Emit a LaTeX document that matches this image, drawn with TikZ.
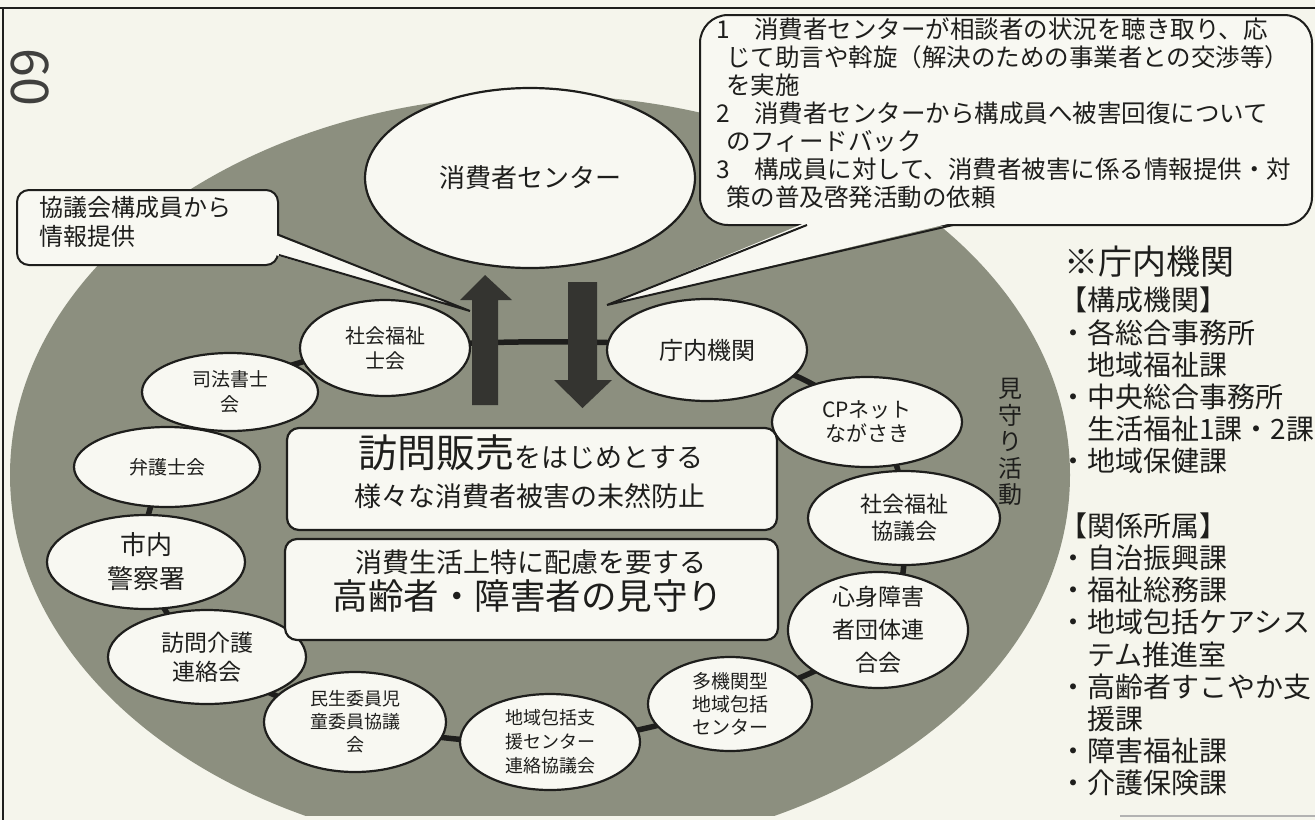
\documentclass[tikz,border=0pt]{standalone}
\usepackage{fontspec}
\setmainfont{Noto Sans CJK JP}
\usetikzlibrary{shapes.geometric}
\pgfdeclarelayer{bg}
\pgfdeclarelayer{ringl}
\pgfsetlayers{bg,ringl,main}
\definecolor{paper}{RGB}{245,245,236}
\definecolor{olive}{RGB}{140,143,127}
\definecolor{ink}{RGB}{30,30,28}
\definecolor{arrowc}{RGB}{52,52,48}
\definecolor{nodefill}{RGB}{248,248,242}
\newcommand{\fsz}[2]{\fontsize{#1pt}{#2pt}\selectfont}
\begin{document}
\begin{tikzpicture}[x=1pt,y=-1pt,
  member/.style={ellipse, draw=ink, line width=2.2pt, fill=nodefill, inner sep=0pt},
  lbl/.style={align=center, inner sep=0pt, text=ink},
  line/.style={anchor=west, inner sep=0pt, text=ink, text height=0.88em, text depth=0.12em},
  ringline/.style={draw=ink, line width=5.5pt},
  infobox/.style={draw=ink, line width=2.2pt, fill=nodefill, rounded corners=12pt, inner sep=0pt},
  callbox/.style={draw=ink, line width=2pt, fill=nodefill, inner sep=0pt},
  tailfill/.style={fill=nodefill},
  tailline/.style={draw=ink, line width=2pt, line join=miter},
  bigarrow/.style={fill=arrowc}]
\useasboundingbox (0,0) rectangle (1315,820);

\begin{pgfonlayer}{bg}
  \fill[paper] (0,0) rectangle (1315,820);
  \begin{scope}
    \clip (0,0) rectangle (1315,815);
    \fill[olive] (540,475) ellipse [x radius=530pt, y radius=380pt];
  \end{scope}
  \draw[ink, line width=2pt] (0,8) -- (1315,8);
  \draw[ink, line width=2pt] (3,8) -- (3,820);
  \draw[gray!60, line width=1.5pt] (1120,816) -- (1315,816);
\end{pgfonlayer}

% page number
\node[rotate=-90, font=\fsz{52}{52}, text=ink!85, inner sep=0pt] (pagenum) at (30,77) {60};

% centre
\node[member, minimum width=330pt, minimum height=180pt] (center) at (530,178) {};
\node[lbl, font=\fsz{26}{30}] (center-t) at (center) {消費者センター};

% members of the ring
\node[member, minimum width=170pt, minimum height=96pt] (shakai) at (385,348) {};
\node[lbl, font=\fsz{20}{25}] (shakai-t) at (shakai) {社会福祉\\士会};
\node[member, minimum width=200pt, minimum height=102pt] (chounai) at (707,350) {};
\node[lbl, font=\fsz{24}{28}] (chounai-t) at (chounai) {庁内機関};
\node[member, minimum width=190pt, minimum height=90pt] (cp) at (867,422) {};
\node[lbl, font=\fsz{21}{24}] (cp-t) at (cp) {CPネット\\ながさき};
\node[member, minimum width=192pt, minimum height=94pt] (shakyo) at (904,518) {};
\node[lbl, font=\fsz{22}{27}] (shakyo-t) at (shakyo) {社会福祉\\協議会};
\node[member, minimum width=180pt, minimum height=116pt] (shinshin) at (878,630) {};
\node[lbl, font=\fsz{23}{33}] (shinshin-t) at (shinshin) {心身障害\\者団体連\\合会};
\node[member, minimum width=164pt, minimum height=94pt] (takikan) at (730,704) {};
\node[lbl, font=\fsz{19}{23}] (takikan-t) at (takikan) {多機関型\\地域包括\\センター};
\node[member, minimum width=180pt, minimum height=96pt] (chiiki) at (550,742) {};
\node[lbl, font=\fsz{18}{24}] (chiiki-t) at (chiiki) {地域包括支\\援センター\\連絡協議会};
\node[member, minimum width=182pt, minimum height=100pt] (minsei) at (355,722) {};
\node[lbl, font=\fsz{18}{23}] (minsei-t) at (minsei) {民生委員児\\童委員協議\\会};
\node[member, minimum width=198pt, minimum height=94pt] (houmon) at (207,657) {};
\node[lbl, font=\fsz{23}{29}] (houmon-t) at (houmon) {訪問介護\\連絡会};
\node[member, minimum width=198pt, minimum height=94pt] (shinai) at (146,562) {};
\node[lbl, font=\fsz{26}{34}] (shinai-t) at (shinai) {市内\\警察署};
\node[member, minimum width=186pt, minimum height=80pt] (bengo) at (167,467) {};
\node[lbl, font=\fsz{19}{24}] (bengo-t) at (bengo) {弁護士会};
\node[member, minimum width=176pt, minimum height=78pt] (shiho) at (230,392) {};
\node[lbl, font=\fsz{19}{25}] (shiho-t) at (shiho) {司法書士\\会};

\begin{pgfonlayer}{ringl}
  \draw[ringline] plot[smooth cycle, tension=0.6] coordinates {(shakai) (chounai) (cp) (shakyo) (shinshin) (takikan) (chiiki) (minsei) (houmon) (shinai) (bengo) (shiho)};
\end{pgfonlayer}

% central boxes
\node[infobox, minimum width=490pt, minimum height=102pt] (box1) at (532,479) {};
\node[line, anchor=center] (box1-a) at (531,464) {{\fsz{39}{39}訪問販売}{\fsz{27}{27}をはじめとする}};
\node[line, anchor=center, font=\fsz{27}{27}] (box1-b) at (530,503) {様々な消費者被害の未然防止};
\node[infobox, minimum width=493pt, minimum height=101pt] (box2) at (531.5,589.5) {};
\node[line, anchor=center, font=\fsz{27}{27}] (box2-a) at (531,569) {消費生活上特に配慮を要する};
\node[line, anchor=center, font=\fsz{35.5}{35.5}] (box2-b) at (528,606) {高齢者・障害者の見守り};

% left callout
\node[callbox, rounded corners=12pt, minimum width=261pt, minimum height=75pt] (lcall) at (147.5,227.5) {};
\coordinate (ltip) at (470,311);
\fill[tailfill] (275.5,235) -- (ltip) -- (275.5,255) -- cycle;
\draw[tailline] (lcall.east |- 0,235) -- (ltip) -- (lcall.east |- 0,255);
\node[line, font=\fsz{24}{24}] (lcall-a) at (39,213) {協議会構成員から};
\node[line, font=\fsz{24}{24}] (lcall-b) at (39,242) {情報提供};

% right callout
\node[callbox, rounded corners=28pt, minimum width=612pt, minimum height=210pt] (rcall) at (1006,120) {};
\coordinate (rtip) at (607,305);
\fill[tailfill] (806,222.5) -- (rtip) -- (954,222.5) -- cycle;
\draw[tailline] (807,225) -- (rtip) -- (953,225);
\foreach \i/\t in {0/{1\hspace{1em}消費者センターが相談者の状況を聴き取り、応},
                   1/{\hspace{0.4em}じて助言や斡旋（解決のための事業者との交渉等）},
                   2/{\hspace{0.4em}を実施},
                   3/{2\hspace{1em}消費者センターから構成員へ被害回復について},
                   4/{\hspace{0.4em}のフィードバック},
                   5/{3\hspace{1em}構成員に対して、消費者被害に係る情報提供・対},
                   6/{\hspace{0.4em}策の普及啓発活動の依頼}}
  \node[line, font=\fsz{24.5}{24.5}] (rc\i) at (716,35+28*\i) {\t};

% arrows
\fill[bigarrow] (472,405) -- (472,300) -- (460,300) -- (485,275) -- (512,300) -- (498,300) -- (498,405) -- cycle;
\fill[bigarrow] (568,282) -- (597,282) -- (597,380) -- (612,380) -- (582.5,408) -- (554,380) -- (568,380) -- cycle;

% vertical label
\node[lbl, font=\fsz{24}{26.5}] (mimamori) at (1010,442) {見\\守\\り\\活\\動};

% right-hand list
\node[line, font=\fsz{34}{34}] (hd) at (1064,271) {※庁内機関};
\foreach \k/\t in {0/{【構成機関】}, 1/{・各総合事務所}, 2/{\phantom{・}地域福祉課},
                   3/{・中央総合事務所}, 4/{\phantom{・}生活福祉1課・2課}, 5/{・地域保健課},
                   7/{【関係所属】}, 8/{・自治振興課}, 9/{・福祉総務課},
                   10/{・地域包括ケアシス}, 11/{\phantom{・}テム推進室},
                   12/{・高齢者すこやか支}, 13/{\phantom{・}援課},
                   14/{・障害福祉課}, 15/{・介護保険課}}
  \node[line, font=\fsz{28}{28}] (r\k) at (1059,307+32.2*\k) {\t};
\end{tikzpicture}
\end{document}
